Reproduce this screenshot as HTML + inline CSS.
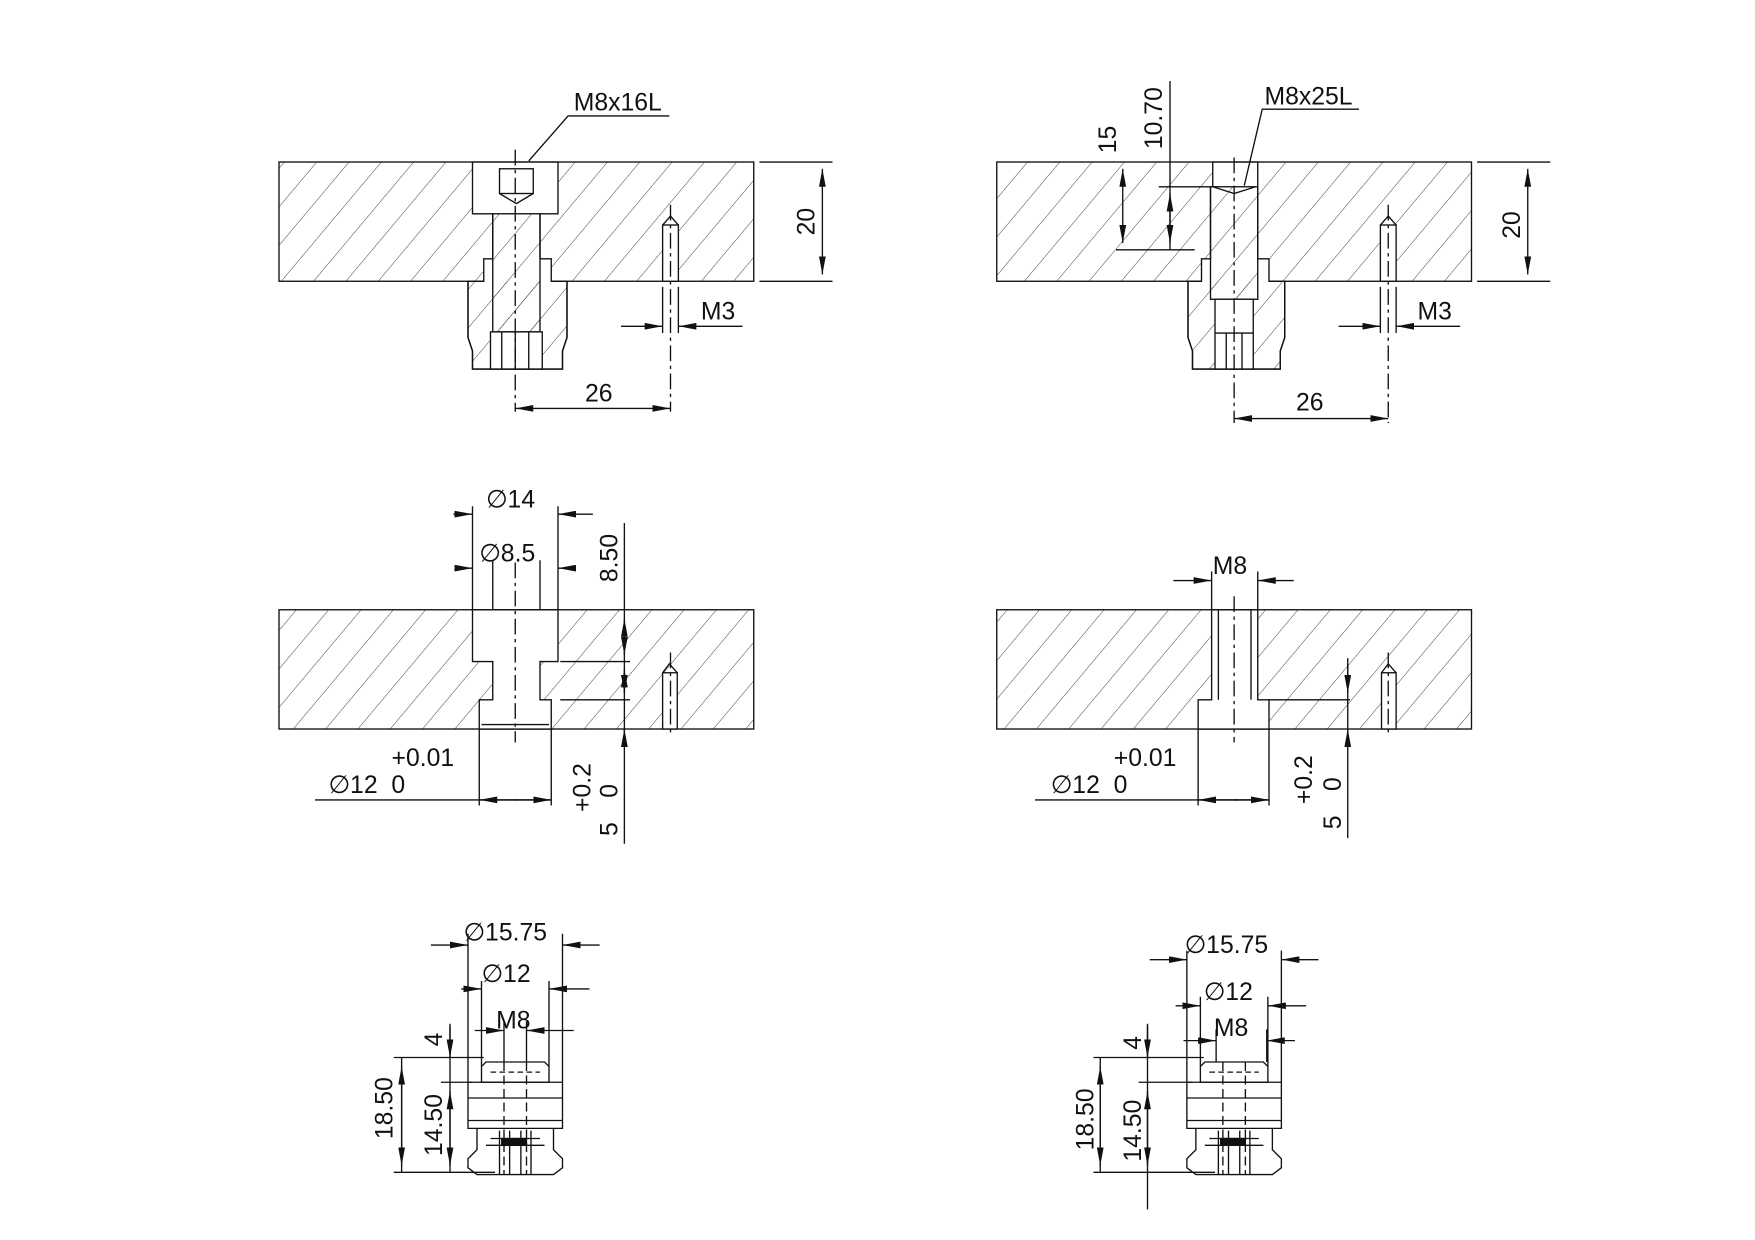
<!DOCTYPE html>
<html><head><meta charset="utf-8"><style>
html,body{margin:0;padding:0;background:#fff}
svg{display:block}
text{font-family:"Liberation Sans",sans-serif;font-size:22px;fill:#111}
</style></head><body>
<svg width="1755" height="1240" viewBox="0 0 1560 1102.2" xmlns="http://www.w3.org/2000/svg">
<defs>
<pattern id="h" width="22" height="22" patternUnits="userSpaceOnUse" patternTransform="rotate(40)">
<line x1="0" y1="0" x2="0" y2="22" stroke="#444" stroke-width="0.9"/>
</pattern>
<marker id="a" viewBox="0 0 16 6" refX="16" refY="3" markerWidth="16" markerHeight="6" orient="auto-start-reverse" markerUnits="userSpaceOnUse">
<path d="M0,0 L16,3 L0,6 z" fill="#111"/>
</marker>
</defs>
<g stroke="#111" stroke-width="1.2" fill="none">

<!-- ===== TOP LEFT ===== -->
<rect x="248" y="144" width="422" height="106" fill="url(#h)"/>
<path d="M420,144 V190 H438 V230 H430 V250 H416 V300 L420,312 V328 H500 V312 L504,300 V250 H490 V230 H480 V190 H496 V144 Z" fill="#fff"/>
<path d="M416,250 V300 L420,312 V328 H500 V312 L504,300 V250" fill="url(#h)"/>
<rect x="438" y="190" width="42" height="105" fill="url(#h)"/>
<rect x="444" y="150" width="30" height="22" fill="#fff"/>
<path d="M444,172 L459,181 L474,172"/>
<rect x="436" y="295" width="46" height="33" fill="#fff"/>
<path d="M446,295V328M458,295V328M470,295V328"/>
<rect x="589" y="200" width="14" height="50" fill="#fff"/>
<path d="M589,200 L596,192 L603,200"/>
<path d="M458,133V366M596,182V366" stroke-dasharray="14,4,3,4"/>
<path d="M470,143 L505,103 H595"/>
<path d="M675,144H740M675,250H740"/>
<line x1="731" y1="150" x2="731" y2="244" marker-start="url(#a)" marker-end="url(#a)"/>
<path d="M589,255V296M603,255V296"/>
<line x1="552" y1="290" x2="589" y2="290" marker-end="url(#a)"/>
<line x1="660" y1="290" x2="603" y2="290" marker-end="url(#a)"/>
<line x1="458" y1="363" x2="596" y2="363" marker-start="url(#a)" marker-end="url(#a)"/>

<!-- ===== TOP RIGHT ===== -->
<rect x="886" y="144" width="422" height="106" fill="url(#h)"/>
<path d="M1078,144 V166 H1076 V230 H1068 V250 H1056 V300 L1060,312 V328 H1138 V312 L1142,300 V250 H1128 V230 H1118 V144 Z" fill="#fff"/>
<path d="M1056,250 V300 L1060,312 V328 H1138 V312 L1142,300 V250" fill="url(#h)"/>
<rect x="1076" y="166" width="42" height="100" fill="url(#h)"/>
<rect x="1080" y="266" width="34" height="62" fill="#fff"/>
<path d="M1080,296H1114M1090,296V328M1104,296V328"/>
<path d="M1078,166 L1097,172 L1116,166"/>
<rect x="1227" y="200" width="14" height="50" fill="#fff"/>
<path d="M1227,200 L1234,192 L1241,200"/>
<path d="M1097,140V376M1234,182V376" stroke-dasharray="14,4,3,4"/>
<path d="M1106,165 L1122,97 H1208"/>
<path d="M1313,144H1378M1313,250H1378"/>
<line x1="1358" y1="150" x2="1358" y2="244" marker-start="url(#a)" marker-end="url(#a)"/>
<line x1="998" y1="150" x2="998" y2="216" marker-start="url(#a)" marker-end="url(#a)"/>
<path d="M1040,72V222"/>
<line x1="1040" y1="172" x2="1040" y2="216" marker-start="url(#a)" marker-end="url(#a)"/>
<path d="M1030,166H1080M992,222H1062"/>
<path d="M1227,255V296M1241,255V296"/>
<line x1="1190" y1="290" x2="1227" y2="290" marker-end="url(#a)"/>
<line x1="1298" y1="290" x2="1241" y2="290" marker-end="url(#a)"/>
<line x1="1097" y1="372" x2="1234" y2="372" marker-start="url(#a)" marker-end="url(#a)"/>

<!-- ===== MIDDLE LEFT ===== -->
<rect x="248" y="542" width="422" height="106" fill="url(#h)"/>
<path d="M420,542 V588 H438 V622 H426 V648 H490 V622 H480 V588 H496 V542 Z" fill="#fff"/>
<path d="M428,644H488"/>
<rect x="589" y="598" width="13" height="50" fill="#fff"/>
<path d="M589,598 L595,590 L602,598"/>
<path d="M458,500V660M596,580V655" stroke-dasharray="14,4,3,4"/>
<path d="M420,450V542M496,450V542M438,498V542M480,498V542"/>
<line x1="403" y1="457" x2="420" y2="457" marker-end="url(#a)"/>
<line x1="527" y1="457" x2="496" y2="457" marker-end="url(#a)"/>
<line x1="404" y1="505" x2="420" y2="505" marker-end="url(#a)"/>
<line x1="512" y1="505" x2="496" y2="505" marker-end="url(#a)"/>
<path d="M555,465V750M498,588H560M498,622H560"/>
<line x1="555" y1="550" x2="555" y2="582" marker-start="url(#a)" marker-end="url(#a)"/>
<line x1="555" y1="595" x2="555" y2="616" marker-start="url(#a)" marker-end="url(#a)"/>
<line x1="555" y1="664" x2="555" y2="648" marker-end="url(#a)"/>
<path d="M426,648V716M490,648V716"/>
<line x1="280" y1="711" x2="490" y2="711"/>
<line x1="460" y1="711" x2="426" y2="711" marker-end="url(#a)"/>
<line x1="458" y1="711" x2="490" y2="711" marker-end="url(#a)"/>

<!-- ===== MIDDLE RIGHT ===== -->
<rect x="886" y="542" width="422" height="106" fill="url(#h)"/>
<path d="M1077,542 V622 H1065 V648 H1128 V622 H1118 V542 Z" fill="#fff"/>
<path d="M1083,542V622M1112,542V622"/>
<rect x="1228" y="598" width="13" height="50" fill="#fff"/>
<path d="M1228,598 L1234,590 L1241,598"/>
<path d="M1097,530V660M1234,580V655" stroke-dasharray="14,4,3,4"/>
<path d="M1077,508V542M1118,508V542"/>
<line x1="1043" y1="516" x2="1077" y2="516" marker-end="url(#a)"/>
<line x1="1150" y1="516" x2="1118" y2="516" marker-end="url(#a)"/>
<path d="M1198,585V745M1128,622H1200"/>
<line x1="1198" y1="590" x2="1198" y2="616" marker-end="url(#a)"/>
<line x1="1198" y1="664" x2="1198" y2="648" marker-end="url(#a)"/>
<path d="M1065,648V716M1128,648V716"/>
<line x1="920" y1="711" x2="1128" y2="711"/>
<line x1="1100" y1="711" x2="1065" y2="711" marker-end="url(#a)"/>
<line x1="1097" y1="711" x2="1128" y2="711" marker-end="url(#a)"/>

<!-- ===== BOTTOM LEFT KNOB ===== -->
<g transform="translate(458,0)">
<path d="M-26,944 H26 L30,948 V962 H-30 V948 Z"/>
<path d="M-42,962 H42 V1003 H-42 Z"/>
<path d="M-42,976H42M-42,996H42"/>
<path d="M-34,1003 V1022 L-42,1030 V1038 L-34,1044 H34 L42,1038 V1030 L34,1022 V1003"/>
<path d="M-22,1012H22M-26,1018H26M-14,1005V1044M-5,1005V1044M5,1005V1044M14,1005V1044"/>
<rect x="-12" y="1012" width="22" height="6" fill="#111"/>
<path d="M-10,944V1044M10,944V1044" stroke-dasharray="8,4"/>
<path d="M-22,953H22" stroke-dasharray="5,3"/>
<path d="M-42,830V962M42,830V962M-30,872V948M30,872V948M-10,908V944M10,908V944"/>
<line x1="-75" y1="840" x2="-42" y2="840" marker-end="url(#a)"/>
<line x1="75" y1="840" x2="42" y2="840" marker-end="url(#a)"/>
<line x1="-48" y1="879" x2="-30" y2="879" marker-end="url(#a)"/>
<line x1="66" y1="879" x2="30" y2="879" marker-end="url(#a)"/>
<line x1="-36" y1="916" x2="-10" y2="916" marker-end="url(#a)"/>
<line x1="52" y1="916" x2="10" y2="916" marker-end="url(#a)"/>
</g>
<path d="M350,940H430M392,962H420M350,1042H440"/>
<path d="M400,910V1042M357,940V1042"/>
<line x1="357" y1="948" x2="357" y2="1036" marker-start="url(#a)" marker-end="url(#a)"/>
<line x1="400" y1="912" x2="400" y2="940" marker-end="url(#a)"/>
<line x1="400" y1="970" x2="400" y2="1036" marker-start="url(#a)" marker-end="url(#a)"/>

<!-- ===== BOTTOM RIGHT KNOB ===== -->
<g transform="translate(1097,0)">
<path d="M-26,944 H26 L30,948 V962 H-30 V948 Z"/>
<path d="M-42,962 H42 V1003 H-42 Z"/>
<path d="M-42,976H42M-42,996H42"/>
<path d="M-34,1003 V1022 L-42,1030 V1038 L-34,1044 H34 L42,1038 V1030 L34,1022 V1003"/>
<path d="M-22,1012H22M-26,1018H26M-14,1005V1044M-5,1005V1044M5,1005V1044M14,1005V1044"/>
<rect x="-12" y="1012" width="22" height="6" fill="#111"/>
<path d="M-10,944V1044M10,944V1044" stroke-dasharray="8,4"/>
<path d="M-22,953H22" stroke-dasharray="5,3"/>
<path d="M-42,845V962M42,845V962M-30,886V948M30,886V948M-16,915V944M29,915V944"/>
<line x1="-75" y1="853" x2="-42" y2="853" marker-end="url(#a)"/>
<line x1="75" y1="853" x2="42" y2="853" marker-end="url(#a)"/>
<line x1="-52" y1="894" x2="-30" y2="894" marker-end="url(#a)"/>
<line x1="64" y1="894" x2="30" y2="894" marker-end="url(#a)"/>
<line x1="-45" y1="925" x2="-16" y2="925" marker-end="url(#a)"/>
<line x1="54" y1="925" x2="29" y2="925" marker-end="url(#a)"/>
</g>
<path d="M972,940H1070M1012,962H1060M972,1042H1080"/>
<path d="M1020,910V1075M978,940V1042"/>
<line x1="978" y1="948" x2="978" y2="1036" marker-start="url(#a)" marker-end="url(#a)"/>
<line x1="1020" y1="912" x2="1020" y2="940" marker-end="url(#a)"/>
<line x1="1020" y1="970" x2="1020" y2="1036" marker-start="url(#a)" marker-end="url(#a)"/>
</g>

<!-- ===== TEXT ===== -->
<g>
<text x="510" y="98">M8x16L</text>
<text x="1124" y="93">M8x25L</text>
<text transform="translate(724,197) rotate(-90)" text-anchor="middle">20</text>
<text transform="translate(1351,200) rotate(-90)" text-anchor="middle">20</text>
<text x="623" y="284">M3</text>
<text x="1260" y="284">M3</text>
<text x="520" y="357">26</text>
<text x="1152" y="365">26</text>
<text transform="translate(992,124) rotate(-90)" text-anchor="middle">15</text>
<text transform="translate(1033,105) rotate(-90)" text-anchor="middle">10.70</text>
<text x="432" y="451">∅14</text>
<text x="426" y="499">∅8.5</text>
<text transform="translate(549,496) rotate(-90)" text-anchor="middle">8.50</text>
<text x="1078" y="510">M8</text>
<text x="348" y="681">+0.01</text>
<text x="292" y="705">∅12&#160;&#160;0</text>
<text x="990" y="681">+0.01</text>
<text x="934" y="705">∅12&#160;&#160;0</text>
<text transform="translate(525,700) rotate(-90)" text-anchor="middle">+0.2</text>
<text transform="translate(549,703) rotate(-90)" text-anchor="middle">0</text>
<text transform="translate(549,737) rotate(-90)" text-anchor="middle">5</text>
<text transform="translate(1166,693) rotate(-90)" text-anchor="middle">+0.2</text>
<text transform="translate(1192,697) rotate(-90)" text-anchor="middle">0</text>
<text transform="translate(1192,731) rotate(-90)" text-anchor="middle">5</text>
<text x="412" y="836">∅15.75</text>
<text x="428" y="873">∅12</text>
<text x="441" y="914">M8</text>
<text transform="translate(349,985) rotate(-90)" text-anchor="middle">18.50</text>
<text transform="translate(393,1000) rotate(-90)" text-anchor="middle">14.50</text>
<text transform="translate(393,924) rotate(-90)" text-anchor="middle">4</text>
<text x="1053" y="847">∅15.75</text>
<text x="1070" y="889">∅12</text>
<text x="1079" y="921">M8</text>
<text transform="translate(972,995) rotate(-90)" text-anchor="middle">18.50</text>
<text transform="translate(1014,1005) rotate(-90)" text-anchor="middle">14.50</text>
<text transform="translate(1014,927) rotate(-90)" text-anchor="middle">4</text>
</g>
</svg>
</body></html>
